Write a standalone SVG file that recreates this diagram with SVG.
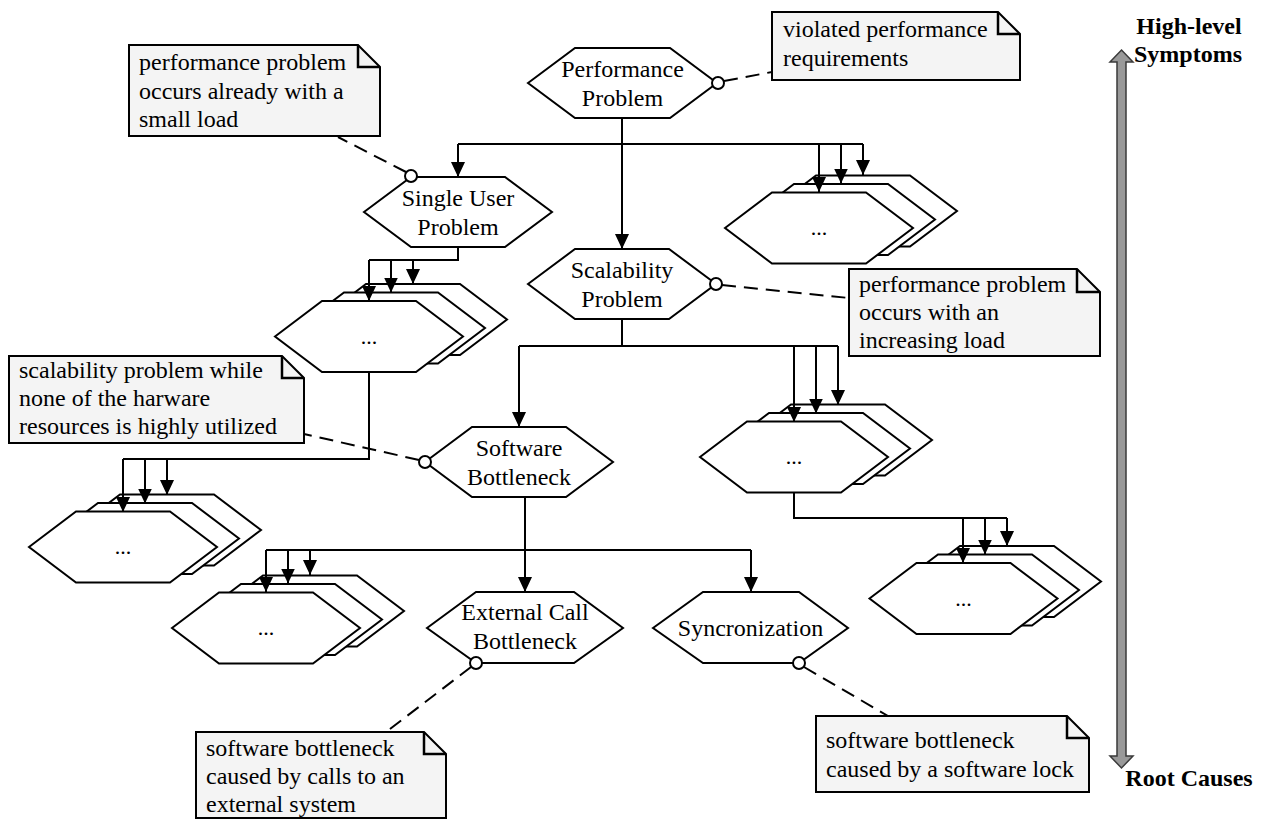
<svg xmlns="http://www.w3.org/2000/svg" xmlns:xlink="http://www.w3.org/1999/xlink" width="1262" height="820" viewBox="0 0 1262 820">
  <style>
    .hex { fill: #ffffff; stroke: #000000; stroke-width: 2; stroke-linejoin: miter; }
    .note { fill: #f4f4f4; stroke: #000000; stroke-width: 2; }
    .fold { fill: none; stroke: #000000; stroke-width: 2.5; }
    .lbl { font-family: "Liberation Serif", "Times New Roman", serif; font-size: 24px; fill: #000000; }
    .mid { text-anchor: middle; }
    .dots { font-family: "Liberation Serif", "Times New Roman", serif; font-size: 22px; text-anchor: middle; fill: #000000; }
    .head { font-family: "Liberation Serif", "Times New Roman", serif; font-size: 24px; font-weight: bold; text-anchor: middle; fill: #000000; }
    .edge { fill: none; stroke: #000000; stroke-width: 2; }
    .arrow { fill: none; stroke: #000000; stroke-width: 2; marker-end: url(#tip); }
    .dash { fill: none; stroke: #000000; stroke-width: 2; stroke-dasharray: 14 8; }
    .anchor { fill: #ffffff; stroke: #000000; stroke-width: 2; }
  </style>
  <defs>
    <marker id="tip" viewBox="0 0 15 14" refX="15" refY="7" markerWidth="15" markerHeight="14" markerUnits="userSpaceOnUse" orient="auto">
      <path d="M0,0 L15,7 L0,14 Z" fill="#000000"/>
    </marker>
    <!-- hexagon centred on the origin, used for stacked placeholder nodes -->
    <path id="stackHex" class="hex" d="M-94,0 L-47,-35.5 L47,-35.5 L94,0 L47,35.5 L-47,35.5 Z"/>
  </defs>

  <!-- main nodes -->
  <g id="performance-problem">
    <polygon class="hex" points="528,83 575,48 670,48 717,83 670,118 575,118"/>
    <text class="lbl mid" x="622.5" y="77">Performance</text>
    <text class="lbl mid" x="622.5" y="106">Problem</text>
  </g>
  <g id="single-user-problem">
    <polygon class="hex" points="364,212 411,177 505,177 552,212 505,247 411,247"/>
    <text class="lbl mid" x="458" y="206">Single User</text>
    <text class="lbl mid" x="458" y="235">Problem</text>
  </g>
  <g id="scalability-problem">
    <polygon class="hex" points="528,284 575,249 669,249 716,284 669,319 575,319"/>
    <text class="lbl mid" x="622" y="278">Scalability</text>
    <text class="lbl mid" x="622" y="307">Problem</text>
  </g>
  <g id="software-bottleneck">
    <polygon class="hex" points="425,462 472,427 566,427 613,462 566,497 472,497"/>
    <text class="lbl mid" x="519" y="456">Software</text>
    <text class="lbl mid" x="519" y="485">Bottleneck</text>
  </g>
  <g id="external-call-bottleneck">
    <polygon class="hex" points="427,628 476,592 574,592 623,628 574,663 476,663"/>
    <text class="lbl mid" x="525" y="620">External Call</text>
    <text class="lbl mid" x="525" y="649">Bottleneck</text>
  </g>
  <g id="syncronization">
    <polygon class="hex" points="653,628 703,592 799,592 848,628 799,663 703,663"/>
    <text class="lbl mid" x="750.5" y="636">Syncronization</text>
  </g>

  <!-- stacked placeholder nodes -->
  <g id="stack-top-right">
    <use xlink:href="#stackHex" transform="translate(863,211)"/>
    <use xlink:href="#stackHex" transform="translate(841,219.5)"/>
    <use xlink:href="#stackHex" transform="translate(819,228)"/>
    <text class="dots" x="819" y="235">...</text>
  </g>
  <g id="stack-single-user">
    <use xlink:href="#stackHex" transform="translate(413,319.5)"/>
    <use xlink:href="#stackHex" transform="translate(391,328)"/>
    <use xlink:href="#stackHex" transform="translate(369,336.5)"/>
    <text class="dots" x="369" y="344">...</text>
  </g>
  <g id="stack-left">
    <use xlink:href="#stackHex" transform="translate(167,530)"/>
    <use xlink:href="#stackHex" transform="translate(145,538.5)"/>
    <use xlink:href="#stackHex" transform="translate(123,547)"/>
    <text class="dots" x="123" y="554">...</text>
  </g>
  <g id="stack-scalability">
    <use xlink:href="#stackHex" transform="translate(838,440)"/>
    <use xlink:href="#stackHex" transform="translate(816,448.5)"/>
    <use xlink:href="#stackHex" transform="translate(794,457)"/>
    <text class="dots" x="794" y="464">...</text>
  </g>
  <g id="stack-bottom-right">
    <use xlink:href="#stackHex" transform="translate(1007,581.5)"/>
    <use xlink:href="#stackHex" transform="translate(985,590)"/>
    <use xlink:href="#stackHex" transform="translate(963.5,598.5)"/>
    <text class="dots" x="963.5" y="606">...</text>
  </g>
  <g id="stack-software">
    <use xlink:href="#stackHex" transform="translate(310,611)"/>
    <use xlink:href="#stackHex" transform="translate(288,619.5)"/>
    <use xlink:href="#stackHex" transform="translate(266,628)"/>
    <text class="dots" x="266" y="635">...</text>
  </g>

  <!-- notes -->
  <g id="note-violated">
    <path class="note" d="M772,12 H998 L1020,34 V80 H772 Z"/>
    <path class="fold" d="M998,12 V34 H1020"/>
    <text class="lbl" x="783" y="37">violated performance</text>
    <text class="lbl" x="783" y="66">requirements</text>
  </g>
  <g id="note-small-load">
    <path class="note" d="M129,45 H358 L380,67 V136 H129 Z"/>
    <path class="fold" d="M358,45 V67 H380"/>
    <text class="lbl" x="139" y="70">performance problem</text>
    <text class="lbl" x="139" y="98.5">occurs already with a</text>
    <text class="lbl" x="139" y="127">small load</text>
  </g>
  <g id="note-increasing-load">
    <path class="note" d="M849,269 H1077 L1100,292 V356 H849 Z"/>
    <path class="fold" d="M1077,269 V292 H1100"/>
    <text class="lbl" x="859" y="292">performance problem</text>
    <text class="lbl" x="859" y="320">occurs with an</text>
    <text class="lbl" x="859" y="348">increasing load</text>
  </g>
  <g id="note-hardware">
    <path class="note" d="M9,356 H282 L304,378 V443 H9 Z"/>
    <path class="fold" d="M282,356 V378 H304"/>
    <text class="lbl" x="19" y="378">scalability problem while</text>
    <text class="lbl" x="19" y="406">none of the harware</text>
    <text class="lbl" x="19" y="434">resources is highly utilized</text>
  </g>
  <g id="note-external">
    <path class="note" d="M196,732 H424 L446,754 V818 H196 Z"/>
    <path class="fold" d="M424,732 V754 H446"/>
    <text class="lbl" x="206" y="756">software bottleneck</text>
    <text class="lbl" x="206" y="784">caused by calls to an</text>
    <text class="lbl" x="206" y="812">external system</text>
  </g>
  <g id="note-lock">
    <path class="note" d="M816,716 H1067 L1089,738 V792 H816 Z"/>
    <path class="fold" d="M1067,716 V738 H1089"/>
    <text class="lbl" x="826" y="748">software bottleneck</text>
    <text class="lbl" x="826" y="777">caused by a software lock</text>
  </g>

  <!-- abstraction scale -->
  <g id="scale">
    <path d="M1121.5,50 L1133,62 L1126,62 L1126,756 L1133,756 L1121.5,768 L1110,756 L1117,756 L1117,62 L1110,62 Z" fill="#999999" stroke="#3a3a3a" stroke-width="1.5"/>
    <text class="head" x="1189" y="34">High-level</text>
    <text class="head" x="1188" y="62">Symptoms</text>
    <text class="head" x="1189" y="786">Root Causes</text>
  </g>

  <!-- connectors, drawn above the nodes -->
  <g id="connectors">
    <!-- Performance Problem -->
    <path class="edge" d="M622,118 V144 M458,144 H863"/>
    <path class="arrow" d="M458,144 V177"/>
    <path class="arrow" d="M622,144 V249"/>
    <path class="arrow" d="M819,144 V192"/>
    <path class="arrow" d="M841,144 V183.5"/>
    <path class="arrow" d="M863,144 V175"/>
    <!-- Single User Problem -->
    <path class="edge" d="M458,247 V260 H369"/>
    <path class="arrow" d="M369,260 V301"/>
    <path class="arrow" d="M391,260 V292.5"/>
    <path class="arrow" d="M413,260 V284"/>
    <!-- stack below Single User Problem -->
    <path class="edge" d="M369,372 V459 H123"/>
    <path class="arrow" d="M123,459 V512"/>
    <path class="arrow" d="M145,459 V503.5"/>
    <path class="arrow" d="M167,459 V495"/>
    <!-- Scalability Problem -->
    <path class="edge" d="M622,319 V346 M519,346 H838"/>
    <path class="arrow" d="M519,346 V427"/>
    <path class="arrow" d="M794,346 V422"/>
    <path class="arrow" d="M816,346 V413.5"/>
    <path class="arrow" d="M838,346 V405"/>
    <!-- stack below Scalability Problem -->
    <path class="edge" d="M794,492 V518 H1007"/>
    <path class="arrow" d="M963,518 V563"/>
    <path class="arrow" d="M985,518 V554.5"/>
    <path class="arrow" d="M1007,518 V546"/>
    <!-- Software Bottleneck -->
    <path class="edge" d="M266,550 H751"/>
    <path class="arrow" d="M525,497 V592"/>
    <path class="arrow" d="M751,550 V592"/>
    <path class="arrow" d="M266,550 V592"/>
    <path class="arrow" d="M288,550 V583.5"/>
    <path class="arrow" d="M310,550 V575"/>
    <!-- note links with their anchor circles -->
    <path class="dash" d="M724,81 L772,72"/>
    <path class="dash" d="M406,172 L338,137"/>
    <path class="dash" d="M722,285 L849,298"/>
    <path class="dash" d="M419,460 L304,434"/>
    <path class="dash" d="M471,667 L386,732"/>
    <path class="dash" d="M804,667 L888,716"/>
    <circle class="anchor" cx="718" cy="83" r="6"/>
    <circle class="anchor" cx="411" cy="176" r="6"/>
    <circle class="anchor" cx="716" cy="284" r="6"/>
    <circle class="anchor" cx="425" cy="462" r="6"/>
    <circle class="anchor" cx="476" cy="663" r="6"/>
    <circle class="anchor" cx="799" cy="663" r="6"/>
  </g>
</svg>
